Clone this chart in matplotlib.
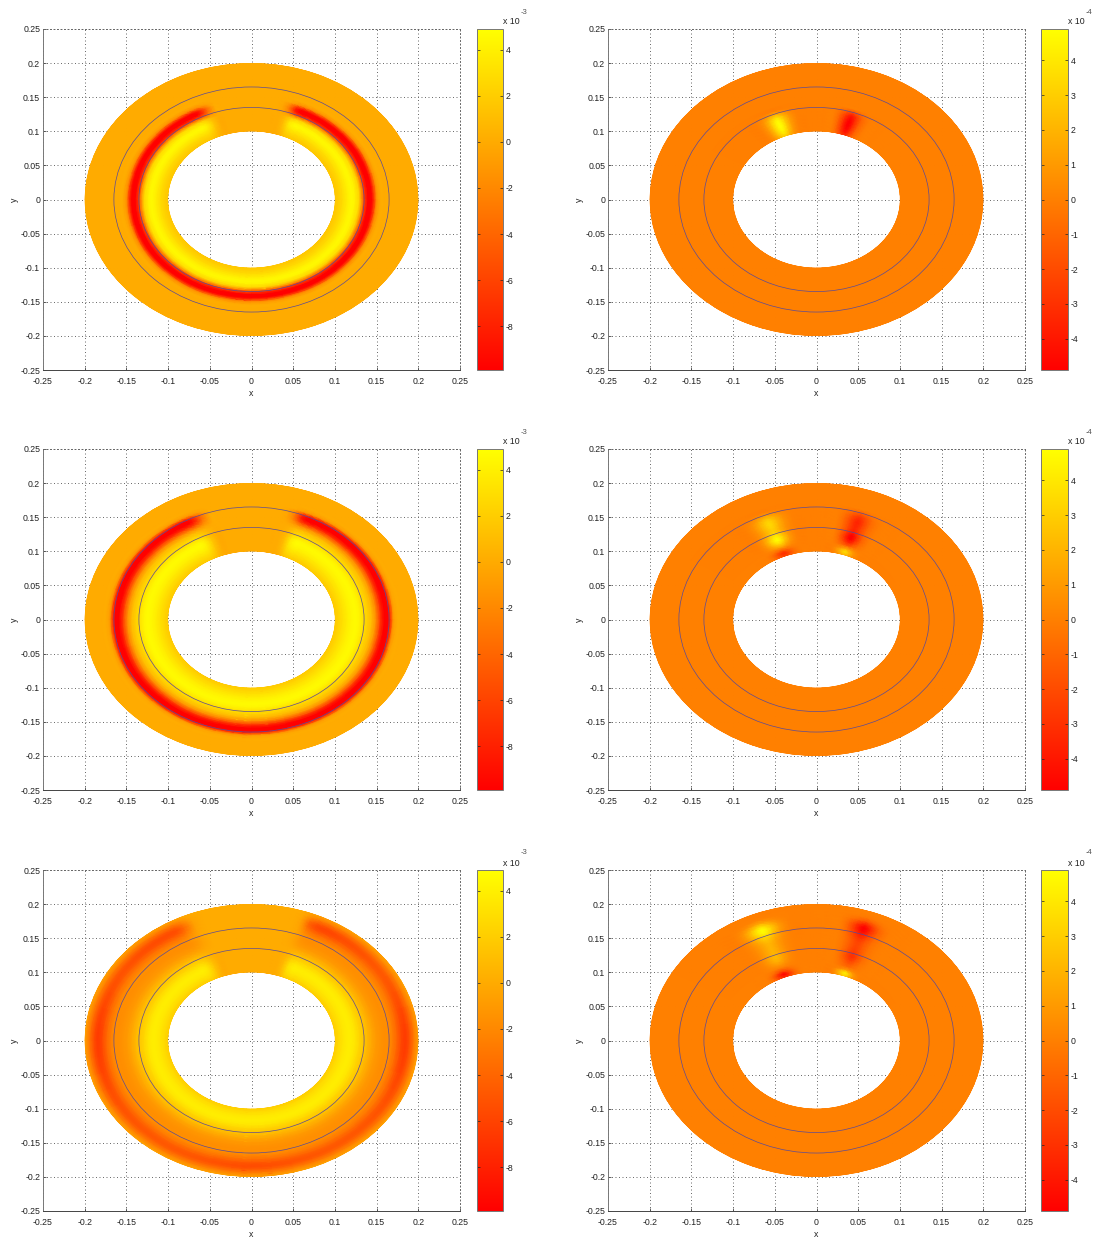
import numpy as np
import matplotlib
matplotlib.use('Agg')
import matplotlib.pyplot as plt
import matplotlib.tri as mtri
from matplotlib.cm import ScalarMappable
from matplotlib.colors import Normalize
from matplotlib.patches import Circle, Wedge

plt.rcParams['font.family'] = ['Liberation Sans', 'DejaVu Sans']
plt.rcParams['axes.unicode_minus'] = False

width, height = 1093, 1239

# Nodes of the field, radius and angle from the top of the ring (deg, clockwise)
radius = [0.10, 0.105, 0.11, 0.115, 0.12, 0.125, 0.13, 0.135, 0.14, 0.145, 0.15,
          0.155, 0.16, 0.165, 0.17, 0.175, 0.18, 0.185, 0.19, 0.195, 0.20]
angle = [-180, -150, -120, -90, -60, -40, -33, -29, -26, -22, -18, -15, -11, -4,
         4, 10, 13, 16, 19, 22, 25, 29, 36, 60, 90, 120, 150, 180]

# Where the ring field is switched on, per angle node
gap_weight = [1, 1, 1, 1, 1, 1, 1, 1, 0.85, 0.35, 0, 0, 0, 0,
              0, 0, 0, 0.05, 0.3, 0.8, 1, 1, 1, 1, 1, 1, 1, 1]

# Left column, x 10^-3, radial profiles
ring_a = [1.6, 2.2, 3.0, 3.9, 4.5, 3.8, 1.5, -5.5, -9.9, -9.0, -2.0, 0, 0, 0, 0,
          0, 0, 0, 0, 0, 0]
ring_b = [1.8, 2.5, 3.2, 3.9, 4.4, 4.6, 4.2, 3.0, 2.0, 0.5, -2.5, -7.0, -9.9,
          -9.0, -1.5, 0, 0, 0, 0, 0, 0]
ring_c_inner = [2.0, 2.8, 3.4, 3.8, 3.8, 3.3, 2.4, 1.6, 0.6, -0.3, -1.0, -1.4,
                -1.4, -0.8, -0.4, -0.2, 0, 0, 0, 0, 0]
ring_c_outer = [0, 0, 0, 0, 0, 0, 0, 0, 0, 0, 0, 0, -0.3, -1.0, -2.4, -4.0, -5.8,
                -6.4, -5.0, -2.8, -0.6]
# How strong the outer band of the third panel is around the ring
band_weight = [0.85, 0.75, 0.8, 1, 0.8, 0.85, 0.85, 0.8, 0.55, 0.1, 0, 0, 0, 0,
               0, 0, 0, 0, 0.1, 0.6, 0.85, 0.9, 0.85, 0.75, 1, 0.8, 0.75, 0.85]

# Right column, x 10^-4, profiles along the two stripes either side of the top
stripe_left_a = [3.0, 4.0, 4.6, 4.9, 4.9, 4.6, 3.5, 1.5, 0, 0, 0, 0, 0, 0, 0, 0,
                 0, 0, 0, 0, 0]
stripe_right_a = [-3.0, -4.0, -4.6, -4.9, -4.9, -4.6, -3.8, -1.8, 0, 0, 0, 0, 0,
                  0, 0, 0, 0, 0, 0, 0, 0]
stripe_left_b = [-2.0, -3.0, -1.0, 1.5, 3.5, 4.8, 4.5, 3.5, 3.0, 3.2, 3.4, 3.2,
                 2.4, 1.0, 0, 0, 0, 0, 0, 0, 0]
stripe_right_b = [2.0, 3.5, 1.5, -1.5, -3.5, -4.8, -4.8, -3.8, -3.4, -3.4, -3.5,
                  -3.2, -2.4, -1.0, 0, 0, 0, 0, 0, 0, 0]
stripe_left_c = [-3.0, -4.5, -2.0, 0, 1.0, 1.8, 2.2, 2.2, 2.0, 2.0, 2.0, 2.2, 2.8,
                 3.6, 4.6, 4.8, 3.5, 1.5, 0.3, 0, 0]
stripe_right_c = [3.0, 4.2, 1.0, -0.8, -1.6, -2.4, -3.0, -2.8, -2.4, -2.2, -2.2,
                  -2.4, -3.0, -3.8, -4.6, -4.8, -3.5, -1.5, -0.3, 0, 0]
# Width of the stripes, per angle node
left_weight = [0, 0, 0, 0, 0, 0, 0.02, 0.25, 0.6, 1, 0.6, 0.25, 0.03, 0,
               0, 0, 0, 0, 0, 0, 0, 0, 0, 0, 0, 0, 0, 0]
right_weight = [0, 0, 0, 0, 0, 0, 0, 0, 0, 0, 0, 0, 0, 0,
                0, 0.02, 0.25, 0.65, 1, 0.65, 0.25, 0.03, 0, 0, 0, 0, 0, 0]

ticks = [-0.25, -0.2, -0.15, -0.1, -0.05, 0, 0.05, 0.1, 0.15, 0.2, 0.25]
tick_labels = ['-0.25', '-0.2', '-0.15', '-0.1', '-0.05', '0', '0.05', '0.1',
               '0.15', '0.2', '0.25']
ring_radii = [0.135, 0.165]
left_range = (-9.9, 4.9)
right_range = (-4.9, 4.9)
left_ticks = [-8, -6, -4, -2, 0, 2, 4]
right_ticks = [-4, -3, -2, -1, 0, 1, 2, 3, 4]

line_color = '#5a4a98'


def axes_px(fig, left, top, right, bottom):
    return fig.add_axes([left / width, 1 - bottom / height,
                         (right - left) / width, (bottom - top) / height])


def field_mesh(z):
    """Refine the node table with matplotlib and bend it round the ring."""
    a = np.radians(angle)
    r = np.array(radius)
    aa, rr = np.meshgrid(a, r)
    na, nr = len(a), len(r)
    triangles = []
    for i in range(nr - 1):
        for j in range(na - 1):
            p = i * na + j
            triangles.append([p, p + 1, p + na])
            triangles.append([p + 1, p + na + 1, p + na])
    # radius scaled up so the cubic fit sees cells of sane shape
    t = mtri.Triangulation(aa.ravel(), rr.ravel() * 20, np.array(triangles))
    # geom keeps the fit local, min_E leaves ripples far from the stripes
    interp = mtri.CubicTriInterpolator(t, z.ravel(), kind='geom')
    refiner = mtri.UniformTriRefiner(t)
    fine, zfine = refiner.refine_field(z.ravel(), triinterpolator=interp, subdiv=3)
    rf = fine.y / 20
    xf = rf * np.sin(fine.x)
    yf = rf * np.cos(fine.x)
    return mtri.Triangulation(xf, yf, fine.triangles), zfine


def draw_panel(fig, box, cbox, z, vrange, cticks, exponent):
    ax = axes_px(fig, *box)
    norm = Normalize(*vrange)
    tri, zf = field_mesh(z)
    mesh = ax.tripcolor(tri, zf, shading='gouraud', cmap='autumn', norm=norm,
                        zorder=2, rasterized=True)
    clip = Wedge((0, 0), 0.2, 0, 360, width=0.1, fc='none', ec='none')
    ax.add_patch(clip)
    mesh.set_clip_path(clip)

    for rad in ring_radii:
        ax.add_patch(Circle((0, 0), rad, fc='none', ec=line_color, lw=0.5, zorder=3))

    ax.set_xlim(-0.25, 0.25)
    ax.set_ylim(-0.25, 0.25)
    ax.set_xticks(ticks, tick_labels)
    ax.set_yticks(ticks, tick_labels)
    ax.tick_params(labelsize=6.3, length=2, width=0.5, colors='#222222',
                   direction='in')
    ax.tick_params(axis='x', pad=5)
    ax.tick_params(axis='y', pad=2)
    ax.grid(True, color='#666666', ls=(0, (1, 2.6)), lw=0.7, zorder=1)
    ax.set_axisbelow(True)
    ax.spines['left'].set_color('#777777')
    ax.spines['left'].set_linewidth(0.7)
    ax.spines['bottom'].set_color('#444444')
    ax.spines['bottom'].set_linewidth(0.7)
    for side in ['top', 'right']:
        ax.spines[side].set_color('#666666')
        ax.spines[side].set_linewidth(0.7)
        ax.spines[side].set_linestyle((0, (1, 2.6)))
    ax.set_xlabel('x', fontsize=6.3, labelpad=2, color='#222222')
    ax.set_ylabel('y', fontsize=6.3, labelpad=1, color='#222222')

    cax = axes_px(fig, *cbox)
    cb = fig.colorbar(ScalarMappable(norm=norm, cmap='autumn'), cax=cax)
    cb.set_ticks(cticks, labels=[str(v) for v in cticks])
    cax.tick_params(labelsize=6.3, length=2.5, width=0.5, pad=2, colors='#222222',
                    direction='in', left=True, right=True)
    cb.outline.set_edgecolor('#777777')
    cb.outline.set_linewidth(0.7)
    fig.text(cbox[2] / width, 1 - (cbox[1] - 7) / height, 'x 10', fontsize=6.3,
             color='#222222', va='center', ha='left')
    fig.text((cbox[2] + 18) / width, 1 - (cbox[1] - 17) / height, exponent,
             fontsize=5.5, color='#555555', va='center', ha='left')


fig = plt.figure(figsize=(width / 100, height / 100), dpi=100)

field_a = np.outer(ring_a, gap_weight)
field_b = np.outer(ring_b, gap_weight)
field_c = np.outer(ring_c_inner, gap_weight) + np.outer(ring_c_outer, band_weight)
field_d = np.outer(stripe_left_a, left_weight) + np.outer(stripe_right_a, right_weight)
field_e = np.outer(stripe_left_b, left_weight) + np.outer(stripe_right_b, right_weight)
field_f = np.outer(stripe_left_c, left_weight) + np.outer(stripe_right_c, right_weight)

tops = [29, 449, 870]
for top, left_field, right_field in zip(tops, [field_a, field_b, field_c],
                                        [field_d, field_e, field_f]):
    bottom = top + 341
    draw_panel(fig, (43, top, 460, bottom), (477, top, 503, bottom),
               left_field, left_range, left_ticks, '-3')
    draw_panel(fig, (608, top, 1025, bottom), (1041, top, 1068, bottom),
               right_field, right_range, right_ticks, '-4')

fig.savefig('out.png', dpi=100)
